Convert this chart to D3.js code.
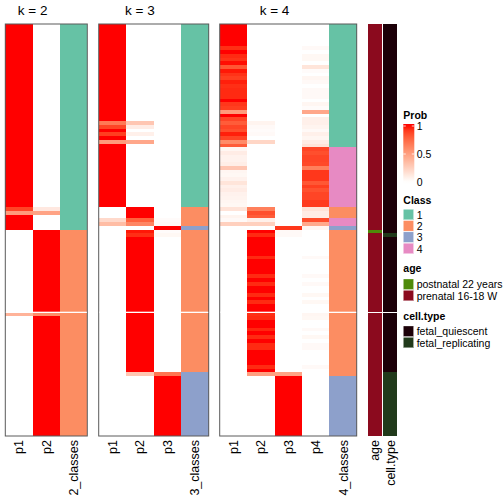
<!DOCTYPE html>
<html><head><meta charset="utf-8">
<script src="https://cdn.jsdelivr.net/npm/d3@7"></script>
<style>html,body{margin:0;padding:0;background:#fff;} svg{display:block;font-family:"Liberation Sans",Arial,Helvetica,sans-serif;}</style>
</head><body><svg id="c" width="504" height="504"></svg>
<script>
// ---------------- data (rows top to bottom, 110 samples; slice 1 = rows 0-76, slice 2 = rows 77-109)
const k2_p1 = [
1,1,1,1,1,1,1,1,1,1, 1,1,1,1,1,1,1,1,1,1, 1,1,1,1,1,1,1,1,1,1, 1,1,1,1,1,1,1,1,1,1,
1,1,1,1,1,1,1,1,1,0.88, 0.52,1,1,1,1,0,0,0,0,0, 0,0,0,0,0,0,0,0,0,0, 0,0,0,0,0,0,0,0.4,0,0,
0,0,0,0,0,0,0,0,0,0, 0,0,0,0,0,0,0,0,0,0, 0,0,0,0,0,0,0,0,0,0];
const k2_p2 = [
0,0,0,0,0,0,0,0,0,0, 0,0,0,0,0,0,0,0,0,0, 0,0,0,0,0,0,0,0,0,0, 0,0,0,0,0,0,0,0,0,0,
0,0,0,0,0,0,0,0,0,0.12, 0.48,0,0,0,0,1,1,1,1,1, 1,1,1,1,1,1,1,1,1,1, 1,1,1,1,1,1,1,0.6,1,1,
1,1,1,1,1,1,1,1,1,1, 1,1,1,1,1,1,1,1,1,1, 1,1,1,1,1,1,1,1,1,1];
const k2_class = [
1,1,1,1,1,1,1,1,1,1, 1,1,1,1,1,1,1,1,1,1, 1,1,1,1,1,1,1,1,1,1, 1,1,1,1,1,1,1,1,1,1,
1,1,1,1,1,1,1,1,1,1, 1,1,1,1,1,2,2,2,2,2, 2,2,2,2,2,2,2,2,2,2, 2,2,2,2,2,2,2,2,2,2,
2,2,2,2,2,2,2,2,2,2, 2,2,2,2,2,2,2,2,2,2, 2,2,2,2,2,2,2,2,2,2];

const k3_p1 = [
1,1,1,1,1,1,1,1,1,1, 1,1,1,1,1,1,1,1,1,1, 1,1,1,1,1,1,0.68,0.88,1,0.9, 1,0.52,1,1,1,1,1,1,1,1,
1,1,1,1,1,1,1,1,1,0, 0,0,0.2,0.35,0,0,0,0,0,0, 0,0,0,0,0,0,0,0,0,0, 0,0,0,0,0,0,0,0,0,0,
0,0,0,0,0,0,0,0,0,0, 0,0,0,0,0,0,0,0,0,0, 0,0,0,0,0,0,0,0,0,0];
const k3_p2 = [
0,0,0,0,0,0,0,0,0,0, 0,0,0,0,0,0,0,0,0,0, 0,0,0,0,0,0,0.3,0.1,0,0.08, 0,0.46,0,0,0,0,0,0,0,0,
0,0,0,0,0,0,0,0,0,1, 1,1,0.78,0.62,0,0.98,0.94,1,1,1, 1,1,1,1,1,1,1,1,1,1, 1,1,1,1,1,1,1,1,1,1,
1,1,1,1,1,1,1,1,1,1, 1,1,1,0.3,0,0,0,0,0,0, 0,0,0,0,0,0,0,0,0,0];
const k3_p3 = [
0,0,0,0,0,0,0,0,0,0, 0,0,0,0,0,0,0,0,0,0, 0,0,0,0,0,0,0,0,0,0, 0,0,0,0,0,0,0,0,0,0,
0,0,0,0,0,0,0,0,0,0, 0,0,0.02,0.03,1,0.02,0.04,0,0,0, 0,0,0,0,0,0,0,0,0,0, 0,0,0,0,0,0,0,0,0,0,
0,0,0,0,0,0,0,0,0,0, 0,0,0,0.7,1,1,1,1,1,1, 1,1,1,1,1,1,1,1,1,1];
const k3_class = [
1,1,1,1,1,1,1,1,1,1, 1,1,1,1,1,1,1,1,1,1, 1,1,1,1,1,1,1,1,1,1, 1,1,1,1,1,1,1,1,1,1,
1,1,1,1,1,1,1,1,1,2, 2,2,2,2,3,2,2,2,2,2, 2,2,2,2,2,2,2,2,2,2, 2,2,2,2,2,2,2,2,2,2,
2,2,2,2,2,2,2,2,2,2, 2,2,2,3,3,3,3,3,3,3, 3,3,3,3,3,3,3,3,3,3];

const k4_p1 = [
1,1,1,1,1,1,0.94,1,0.95,0.93, 0.99,0.82,0.98,0.93,0.9,0.97,0.94,0.95,0.95,0.95,
1,0.92,0.9,0.52,1,0.88,0.8,0.88,0.85,0.97, 0.88,0.6,0.8,0.05,0.1,0.07,0.07,0.09,0.3,0.05,
0.04,0.07,0.14,0.08,0.1,0.07,0.06,0.05,0.04,0.15, 0,0.06,0.03,0.25,0,0,0,0,0,0,
0,0,0,0,0,0,0,0,0,0, 0,0,0,0,0,0,0,0,0,0, 0,0,0,0,0,0,0,0,0,0, 0,0,0,0,0,0,0,0,0,0,
0,0,0,0,0,0,0,0,0,0];
const k4_p2 = [
0,0,0,0,0,0,0,0,0,0, 0,0,0,0,0,0,0,0,0,0,
0,0,0,0,0,0,0.06,0.03,0.02,0.03, 0,0.22,0,0,0,0,0,0,0,0,
0,0,0,0,0,0,0,0,0,0.65, 0.85,0.8,0.08,0.25,0,1,0.95,1,1,1,
1,1,0.95,1,1,1,1,0.95,1,0.95, 1,1,0.95,1,0.95,1,1,0.94,0.95,1,
1,0.96,1,0.95,1,0.95,0.95,1,1,1, 1,0.95,1,0.5,0,0,0,0,0,0,
0,0,0,0,0,0,0,0,0,0];
const k4_p3 = [
0,0,0,0,0,0,0,0,0,0, 0,0,0,0,0,0,0,0,0,0, 0,0,0,0,0,0,0,0,0,0, 0,0,0,0,0,0,0,0,0,0,
0,0,0,0,0,0,0,0,0,0, 0,0,0,0,0.92,0.03,0.03,0,0,0, 0,0,0,0,0,0,0,0,0,0, 0,0,0,0,0,0,0,0,0,0,
0,0,0,0,0,0,0,0,0,0, 0,0,0,0.48,1,1,1,1,1,1, 1,1,1,1,1,1,1,1,1,1];
const k4_p4 = [
0,0,0,0,0,0,0.03,0,0.04,0.04, 0,0.14,0.02,0,0.05,0.03,0,0.03,0.03,0.03,
0,0.05,0.02,0.46,0,0.08,0.08,0.06,0.03,0.08, 0.05,0.1,0.15,0.88,0.85,0.88,0.88,0.87,0.65,0.92,
0.92,0.92,0.82,0.9,0.84,0.88,0.88,0.91,0.91,0.15, 0.1,0.1,0.86,0.45,0.05,0,0,0,0,0,
0,0,0.03,0,0,0,0,0.03,0,0.03, 0,0,0.04,0,0.04,0,0,0.05,0.04,0,
0,0.03,0,0.04,0,0.03,0.03,0,0,0, 0,0.03,0,0,0,0,0,0,0,0,
0,0,0,0,0,0,0,0,0,0];
const k4_class = [
1,1,1,1,1,1,1,1,1,1, 1,1,1,1,1,1,1,1,1,1, 1,1,1,1,1,1,1,1,1,1, 1,1,1,4,4,4,4,4,4,4,
4,4,4,4,4,4,4,4,4,2, 2,2,4,4,3,2,2,2,2,2, 2,2,2,2,2,2,2,2,2,2, 2,2,2,2,2,2,2,2,2,2,
2,2,2,2,2,2,2,2,2,2, 2,2,2,2,3,3,3,3,3,3, 3,3,3,3,3,3,3,3,3,3];

const ageLevels = ["postnatal 22 years", "prenatal 16-18 W"];
const age = [
1,1,1,1,1,1,1,1,1,1, 1,1,1,1,1,1,1,1,1,1, 1,1,1,1,1,1,1,1,1,1, 1,1,1,1,1,1,1,1,1,1,
1,1,1,1,1,1,1,1,1,1, 1,1,1,1,1,0,1,1,1,1, 1,1,1,1,1,1,1,1,1,1, 1,1,1,1,1,1,1,1,1,1,
1,1,1,1,1,1,1,1,1,1, 1,1,1,1,1,1,1,1,1,1, 1,1,1,1,1,1,1,1,1,1];
const cellLevels = ["fetal_quiescent", "fetal_replicating"];
const cellType = [
0,0,0,0,0,0,0,0,0,0, 0,0,0,0,0,0,0,0,0,0, 0,0,0,0,0,0,0,0,0,0, 0,0,0,0,0,0,0,0,0,0,
0,0,0,0,0,0,0,0,0,0, 0,0,0,0,0,0,1,0,0,0, 0,0,0,0,0,0,0,0,0,0, 0,0,0,0,0,0,0,0,0,0,
0,0,0,0,0,0,0,0,0,0, 0,0,0,1,1,1,1,1,1,1, 1,1,1,1,1,1,1,1,1,1];

const classLevels = [1, 2, 3, 4];
const probTicks = [0, 0.5, 1];
const sliceSizes = [77, 33];

// ---------------- styles / layout
const classColors = ["#66C2A5", "#FC8D62", "#8DA0CB", "#E78AC3"];
const ageColors = ["#4E8A0A", "#8B0A1E"];
const cellColors = ["#1C0008", "#213A1B"];

const svg = d3.select("#c");
const N = age.length;
const bodyTop = 24, bodyBottom = 436, sliceGap = 1;
const rowH = (bodyBottom - bodyTop - sliceGap) / N;

const yS1 = d3.scaleBand().domain(d3.range(0, sliceSizes[0]))
  .range([bodyTop, bodyTop + sliceSizes[0] * rowH]);
const yS2 = d3.scaleBand().domain(d3.range(sliceSizes[0], N))
  .range([bodyTop + sliceSizes[0] * rowH + sliceGap, bodyBottom]);
const yRow = i => i < sliceSizes[0] ? yS1(i) : yS2(i);
const rowHeight = i => i < sliceSizes[0] ? yS1.bandwidth() : yS2.bandwidth();

const probColor = d3.scaleLinear().domain([0, 1]).range(["#ffffff", "#ff0000"]).interpolate(d3.interpolateLab);
const classColor = d3.scaleOrdinal().domain(classLevels).range(classColors);
const ageColor = d3.scaleOrdinal().domain([0, 1]).range(ageColors);
const cellColor = d3.scaleOrdinal().domain([0, 1]).range(cellColors);

const panels = [
  { title: "k = 2", x0: 5.3, x1: 87.3, cols: [
      { name: "p1", vals: k2_p1, color: probColor },
      { name: "p2", vals: k2_p2, color: probColor },
      { name: "2_classes", vals: k2_class, color: classColor }] },
  { title: "k = 3", x0: 98.7, x1: 208.7, cols: [
      { name: "p1", vals: k3_p1, color: probColor },
      { name: "p2", vals: k3_p2, color: probColor },
      { name: "p3", vals: k3_p3, color: probColor },
      { name: "3_classes", vals: k3_class, color: classColor }] },
  { title: "k = 4", x0: 219.7, x1: 356.7, cols: [
      { name: "p1", vals: k4_p1, color: probColor },
      { name: "p2", vals: k4_p2, color: probColor },
      { name: "p3", vals: k4_p3, color: probColor },
      { name: "p4", vals: k4_p4, color: probColor },
      { name: "4_classes", vals: k4_class, color: classColor }] }
];

const labelY = 440;
const gapY = bodyTop + sliceSizes[0] * rowH + sliceGap / 2;
panels.forEach(p => {
  const x = d3.scaleBand().domain(p.cols.map(c => c.name)).range([p.x0, p.x1]);
  const g = svg.append("g");
  p.cols.forEach(c => {
    g.append("g").attr("shape-rendering", "crispEdges")
      .selectAll("rect").data(c.vals).join("rect")
      .attr("x", x(c.name)).attr("width", x.bandwidth())
      .attr("y", (d, i) => yRow(i)).attr("height", (d, i) => rowHeight(i))
      .attr("fill", d => c.color(d));
    g.append("text")
      .attr("transform", `translate(${x(c.name) + x.bandwidth() / 2},${labelY}) rotate(-90)`)
      .attr("text-anchor", "end").attr("dy", "0.36em")
      .attr("font-size", 12.5).attr("fill", "#000").text(c.name);
  });
  // border around the whole body, white gap line between slices
  g.append("rect").attr("x", p.x0).attr("y", bodyTop).attr("width", p.x1 - p.x0).attr("height", bodyBottom - bodyTop)
    .attr("fill", "none").attr("stroke", "#5a5a5a").attr("stroke-width", 1);
  g.append("line").attr("x1", p.x0 + 0.5).attr("x2", p.x1 - 0.5).attr("y1", gapY).attr("y2", gapY)
    .attr("stroke", "#fff").attr("stroke-width", 1);
  const probCols = p.cols.filter(c => c.color === probColor);
  const cx = (x(probCols[0].name) + x(probCols[probCols.length - 1].name) + x.bandwidth()) / 2;
  svg.append("text").attr("x", cx).attr("y", 15).attr("text-anchor", "middle")
    .attr("font-size", 13.5).text(p.title);
});

// annotation columns
const annCols = [
  { name: "age", vals: age, color: ageColor },
  { name: "cell.type", vals: cellType, color: cellColor }
];
const xAnn = d3.scaleBand().domain(annCols.map(a => a.name)).range([368, 397]).paddingInner(0.07);
annCols.forEach(a => {
  svg.append("g").attr("shape-rendering", "crispEdges")
    .selectAll("rect").data(a.vals).join("rect")
    .attr("x", xAnn(a.name)).attr("width", xAnn.bandwidth())
    .attr("y", (d, i) => yRow(i)).attr("height", (d, i) => rowHeight(i))
    .attr("fill", d => a.color(d));
  svg.append("text")
    .attr("transform", `translate(${xAnn(a.name) + xAnn.bandwidth() / 2},${labelY}) rotate(-90)`)
    .attr("text-anchor", "end").attr("dy", "0.36em")
    .attr("font-size", 12.5).text(a.name);
});

// ---------------- legends
const lx = 403.3, labX = 416.7, fs = 10.5;
const title = (t, y) => svg.append("text").attr("x", lx).attr("y", y)
  .attr("font-size", 10.5).attr("font-weight", "bold").text(t);

// Prob
title("Prob", 119);
const barTop = 124, barH = 60;
const ly = d3.scaleLinear().domain([0, 1]).range([182, 126]);
const defs = svg.append("defs");
const grad = defs.append("linearGradient").attr("id", "pg")
  .attr("x1", 0).attr("y1", 0).attr("x2", 0).attr("y2", 1);
d3.range(0, 21).forEach(j => {
  const off = j / 20;
  const v = Math.max(0, Math.min(1, ly.invert(barTop + off * barH)));
  grad.append("stop").attr("offset", off).attr("stop-color", probColor(v));
});
svg.append("rect").attr("x", lx).attr("y", barTop).attr("width", 11).attr("height", barH).attr("fill", "url(#pg)");
probTicks.forEach(t => {
  [[lx, lx + 2.5], [lx + 8.5, lx + 11]].forEach(([a, b]) =>
    svg.append("line").attr("x1", a).attr("x2", b).attr("y1", ly(t)).attr("y2", ly(t))
      .attr("stroke", "#fff").attr("stroke-width", 0.8));
  svg.append("text").attr("x", labX).attr("y", ly(t)).attr("dy", "0.35em")
    .attr("font-size", fs).text(String(t));
});

function discrete(tt, ty, items, colors, top0) {
  title(tt, ty);
  const yL = d3.scaleBand().domain(items.map((d, i) => i)).range([top0, top0 + items.length * 11.3]);
  items.forEach((it, i) => {
    svg.append("rect").attr("x", lx).attr("y", yL(i)).attr("width", 10.3).attr("height", yL.bandwidth() - 0.8)
      .attr("fill", colors[i]).attr("stroke", "#fff").attr("stroke-width", 0.3);
    svg.append("text").attr("x", labX).attr("y", yL(i) + yL.bandwidth() / 2).attr("dy", "0.35em")
      .attr("font-size", fs).text(it);
  });
}
discrete("Class", 203.5, classLevels.map(String), classLevels.map(c => classColor(c)), 209.3);
discrete("age", 272, ageLevels, ageLevels.map((d, i) => ageColor(i)), 279);
discrete("cell.type", 320, cellLevels, cellLevels.map((d, i) => cellColor(i)), 326);
</script>
</body></html>
